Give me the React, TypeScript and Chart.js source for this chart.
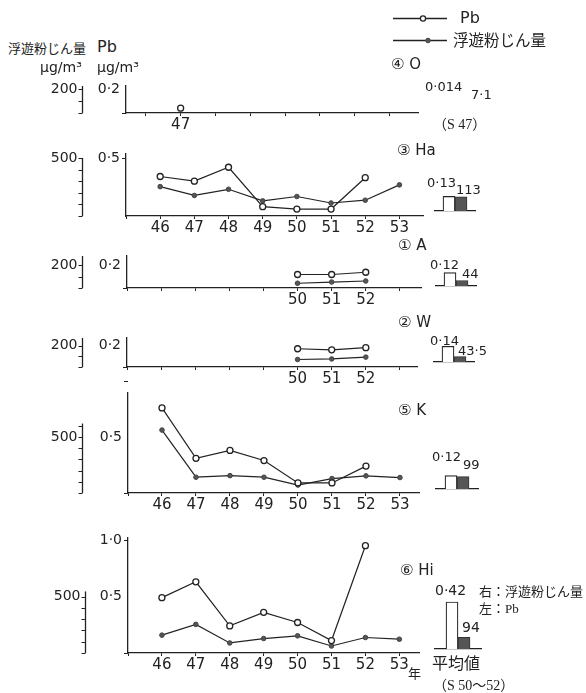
import React, { useEffect, useRef } from 'react';
import { Chart, registerables } from 'chart.js';
Chart.register(...registerables);

const FONT = '"DejaVu Sans", "Noto Sans CJK JP", sans-serif';
const JP = '"Noto Sans CJK JP", sans-serif';
const SERIF = '"Liberation Serif", "Noto Sans CJK JP", serif';
const INK = '#222';

// ---- data ----
const stations = ['O', 'Ha', 'A', 'W', 'K', 'Hi'];
const allYears = [46, 47, 48, 49, 50, 51, 52, 53];
const oYears = [47];
const oPb = [0.04];
const oDust = [40];
const haPb = [0.34, 0.3, 0.42, 0.08, 0.06, 0.06, 0.33, null];
const haDust = [253, 177, 230, 130, 168, 112, 136, 268];
const aYears = [50, 51, 52];
const aPb = [0.12, 0.12, 0.14];
const aDust = [42, 53, 62];
const wYears = [50, 51, 52];
const wPb = [0.17, 0.16, 0.18];
const wDust = [70, 75, 92];
const kPb = [0.76, 0.31, 0.38, 0.29, 0.09, 0.09, 0.24, null];
const kDust = [562, 141, 155, 141, 71, 129, 153, 138];
const hiPb = [0.49, 0.63, 0.24, 0.36, 0.27, 0.11, 0.95, null];
const hiDust = [158, 253, 89, 128, 152, 62, 137, 122];
// averages (S50-52)
const avgPb = [0.014, 0.13, 0.12, 0.14, 0.12, 0.42];
const avgDust = [7.1, 113, 44, 43.5, 99, 94];
const avgPbText = ['0·014', '0·13', '0·12', '0·14', '0·12', '0·42'];
const avgDustText = ['7·1', '113', '44', '43·5', '99', '94'];

const toPts = (ys: number[], vs: (number | null)[]) =>
  ys.map((y, i) => ({ x: y, y: vs[i] })).filter((p) => p.y !== null && p.y !== undefined);

const fmt = (v: number) => v.toFixed(1).replace('.', '·');

type Cfg = {
  years: number[]; pb: (number | null)[]; dust: (number | null)[]; shown: number[];
  top: number; bottom: number; left: number; right: number; dustX: number;
  xMin: number; xMax: number; pbMax: number; pbLabels: number[]; dustLabel: number;
  bracketTop: number; pbMinor: boolean;
};

const PANELS: Cfg[] = [
  { years: oYears, pb: oPb, dust: oDust, shown: [47], top: 86, bottom: 113, left: 126, right: 418, dustX: 83,
    xMin: 45.43, xMax: 53.82, pbMax: 0.225, pbLabels: [0.2], dustLabel: 200, bracketTop: 225, pbMinor: true },
  { years: allYears, pb: haPb, dust: haDust, shown: allYears, top: 154, bottom: 216, left: 126, right: 423, dustX: 83,
    xMin: 45, xMax: 53.69, pbMax: 0.534, pbLabels: [0.5], dustLabel: 500, bracketTop: 500, pbMinor: false },
  { years: aYears, pb: aPb, dust: aDust, shown: aYears, top: 256, bottom: 288, left: 127, right: 421, dustX: 83,
    xMin: 45, xMax: 53.62, pbMax: 0.284, pbLabels: [0.2], dustLabel: 200, bracketTop: 284, pbMinor: true },
  { years: wYears, pb: wPb, dust: wDust, shown: wYears, top: 338, bottom: 367, left: 127, right: 417, dustX: 83,
    xMin: 45, xMax: 53.5, pbMax: 0.27, pbLabels: [0.2], dustLabel: 200, bracketTop: 270, pbMinor: true },
  { years: allYears, pb: kPb, dust: kDust, shown: allYears, top: 393, bottom: 493, left: 128, right: 419, dustX: 83,
    xMin: 45, xMax: 53.56, pbMax: 0.893, pbLabels: [0.5], dustLabel: 500, bracketTop: 620, pbMinor: true },
  { years: allYears, pb: hiPb, dust: hiDust, shown: allYears, top: 538, bottom: 653, left: 128, right: 419, dustX: 86,
    xMin: 45, xMax: 53.58, pbMax: 1.018, pbLabels: [0.5, 1.0], dustLabel: 500, bracketTop: 545, pbMinor: true },
];

const BARS = [
  { i: 1, x0: 434, x1: 476, base: 211 },
  { i: 2, x0: 435, x1: 477, base: 286 },
  { i: 3, x0: 433, x1: 475, base: 362 },
  { i: 4, x0: 435, x1: 479, base: 489 },
  { i: 5, x0: 434, x1: 482, base: 649 },
];

// draws the left-hand tick marks / labels and the dust bracket, using the chart's own scales
const axisMarks = {
  id: 'axisMarks',
  afterDraw(chart: any, _args: any, o: any) {
    const y = chart.scales.y;
    const yd = chart.scales.yd;
    if (!y || !yd) return;
    const ctx = chart.ctx;
    const px = Math.round(chart.chartArea.left);
    const dx = Math.round(yd.right) - 0.5;
    ctx.save();
    ctx.strokeStyle = INK;
    ctx.fillStyle = INK;
    ctx.lineWidth = 1;
    ctx.font = `14px ${FONT}`;
    ctx.textAlign = 'right';
    ctx.textBaseline = 'middle';
    for (const v of o.pbTicks) {
      const py = Math.round(y.getPixelForValue(v)) + 0.5;
      ctx.beginPath();
      ctx.moveTo(px - 4, py);
      ctx.lineTo(px, py);
      ctx.stroke();
    }
    for (const v of o.pbLabels) ctx.fillText(fmt(v), px - 6, y.getPixelForValue(v));
    ctx.lineWidth = 1.3;
    ctx.beginPath();
    ctx.moveTo(dx, yd.getPixelForValue(0));
    ctx.lineTo(dx, yd.getPixelForValue(o.bracketTop));
    ctx.stroke();
    ctx.lineWidth = 1;
    for (const v of o.dustTicks) {
      const py = Math.round(yd.getPixelForValue(v)) + 0.5;
      ctx.beginPath();
      ctx.moveTo(dx - 4, py);
      ctx.lineTo(dx, py);
      ctx.stroke();
    }
    ctx.fillText(String(o.dustLabel), dx - 5, yd.getPixelForValue(o.dustLabel));
    ctx.restore();
  },
};

const PADT = 12;
const XH = 26;
const CW = 440;

function LinePanel({ cfg }: { cfg: Cfg }) {
  const ref = useRef<HTMLCanvasElement>(null);
  useEffect(() => {
    const pbTicks: number[] = [];
    if (cfg.pbMinor) {
      for (let k = 0; k * 0.1 <= cfg.pbMax + 1e-9; k++) pbTicks.push(Math.round(k * 10) / 10);
    } else {
      pbTicks.push(...cfg.pbLabels);
    }
    const dustTicks: number[] = [];
    for (let k = 0; k * 100 <= cfg.bracketTop + 1e-9; k++) dustTicks.push(k * 100);

    const chart = new Chart(ref.current!, {
      type: 'line',
      data: {
        datasets: [
          {
            label: 'Pb', data: toPts(cfg.years, cfg.pb) as any, yAxisID: 'y',
            borderColor: INK, borderWidth: 1.2, pointRadius: 3, pointBackgroundColor: '#fff',
            pointBorderColor: INK, pointBorderWidth: 1.3, tension: 0, clip: false as any,
          },
          {
            label: 'dust', data: toPts(cfg.years, cfg.dust) as any, yAxisID: 'yd',
            borderColor: INK, borderWidth: 1.2, pointRadius: 2.3, pointBackgroundColor: '#555',
            pointBorderColor: '#444', pointBorderWidth: 1, tension: 0, clip: false as any,
          },
        ],
      },
      options: {
        animation: false,
        responsive: false,
        maintainAspectRatio: false,
        events: [],
        layout: { padding: { top: PADT, left: 0, right: CW - cfg.right, bottom: 0 } },
        plugins: {
          legend: { display: false }, tooltip: { enabled: false },
          axisMarks: { pbTicks, pbLabels: cfg.pbLabels, dustTicks, dustLabel: cfg.dustLabel, bracketTop: cfg.bracketTop },
        } as any,
        scales: {
          x: {
            type: 'linear', position: 'bottom', min: cfg.xMin, max: cfg.xMax,
            afterFit: (s: any) => { s.height = XH; },
            border: { display: true, color: INK, width: 1.3 },
            grid: { drawOnChartArea: false, drawTicks: true, tickLength: 3, color: INK, lineWidth: 1 },
            ticks: {
              stepSize: 1, autoSkip: false, includeBounds: false, maxRotation: 0, padding: 0,
              font: { family: FONT, size: 15 }, color: INK,
              callback: (v: any) => (cfg.shown.includes(Number(v)) ? String(v) : ''),
            },
          },
          y: {
            type: 'linear', position: 'left', weight: 0, min: 0, max: cfg.pbMax,
            afterFit: (s: any) => { s.width = cfg.left - cfg.dustX; },
            border: { display: true, color: INK, width: 1.3 },
            grid: { display: false },
            ticks: { display: false },
          },
          yd: {
            type: 'linear', position: 'left', weight: 10, min: 0, max: cfg.pbMax * 1000,
            afterFit: (s: any) => { s.width = cfg.dustX; },
            border: { display: false },
            grid: { display: false },
            ticks: { display: false },
          },
        } as any,
      },
      plugins: [axisMarks],
    });
    return () => chart.destroy();
  }, []);
  const h = cfg.bottom - cfg.top + PADT + XH;
  return (
    <canvas ref={ref} width={CW} height={h}
      style={{ position: 'absolute', left: 0, top: cfg.top - PADT, width: CW, height: h }} />
  );
}

const BH = 60;
function BarPanel({ b }: { b: { i: number; x0: number; x1: number; base: number } }) {
  const ref = useRef<HTMLCanvasElement>(null);
  useEffect(() => {
    const chart = new Chart(ref.current!, {
      type: 'bar',
      data: {
        labels: [stations[b.i]],
        datasets: [
          { data: [avgPb[b.i]], yAxisID: 'y', backgroundColor: '#fff', borderColor: INK, borderWidth: 1.2, barThickness: 12 },
          { data: [avgDust[b.i]], yAxisID: 'yd', backgroundColor: '#555', borderColor: '#333', borderWidth: 1, barThickness: 12 },
        ],
      },
      options: {
        animation: false, responsive: false, maintainAspectRatio: false, events: [],
        layout: { padding: 0 },
        plugins: { legend: { display: false }, tooltip: { enabled: false } },
        scales: {
          x: {
            type: 'category', afterFit: (s: any) => { s.height = 2; },
            ticks: { display: false }, grid: { display: false },
            border: { display: true, color: INK, width: 1.3 },
          },
          y: { display: false, min: 0, max: 0.536 },
          yd: { display: false, min: 0, max: 480 },
        } as any,
      },
    });
    return () => chart.destroy();
  }, []);
  const w = b.x1 - b.x0;
  return (
    <canvas ref={ref} width={w} height={BH + 2}
      style={{ position: 'absolute', left: b.x0, top: b.base - BH, width: w, height: BH + 2 }} />
  );
}

function Txt({ x, y, size = 14, font = FONT, children }: any) {
  return (
    <div style={{
      position: 'absolute', left: x, top: y, transform: 'translateY(-50%)', fontSize: size,
      fontFamily: font, lineHeight: 1, whiteSpace: 'nowrap', color: INK,
    }}>{children}</div>
  );
}

export default function App() {
  return (
    <div style={{ position: 'absolute', left: 0, top: 0, width: 586, height: 693, background: '#fff', overflow: 'hidden' }}>
      <svg width={586} height={693} style={{ position: 'absolute', left: 0, top: 0 }}>
        <line x1={393} y1={18.5} x2={447} y2={18.5} stroke={INK} strokeWidth={1.3} />
        <circle cx={423} cy={18.5} r={2.6} fill="#fff" stroke={INK} strokeWidth={1.3} />
        <line x1={393} y1={40.5} x2={447} y2={40.5} stroke={INK} strokeWidth={1.3} />
        <circle cx={428} cy={40.5} r={2.3} fill="#555" stroke="#444" strokeWidth={1} />
      </svg>
      {PANELS.map((c, i) => <LinePanel key={i} cfg={c} />)}
      {BARS.map((b) => <BarPanel key={b.i} b={b} />)}

      <Txt x={8} y={47} size={13} font={JP}>浮遊粉じん量</Txt>
      <Txt x={97} y={47} size={16}>Pb</Txt>
      <Txt x={40} y={67} size={14}>μg/m³</Txt>
      <Txt x={97} y={67} size={14}>μg/m³</Txt>

      <Txt x={460} y={18} size={16}>Pb</Txt>
      <Txt x={453} y={40} size={15.5} font={JP}>浮遊粉じん量</Txt>

      <Txt x={391} y={64} size={15}>④ O</Txt>
      <Txt x={425} y={86} size={13}>{avgPbText[0]}</Txt>
      <Txt x={471} y={94} size={13}>{avgDustText[0]}</Txt>
      <Txt x={433} y={125} size={14} font={SERIF}>（S 47）</Txt>

      <Txt x={397} y={150} size={15}>③ Ha</Txt>
      <Txt x={427} y={182} size={13}>{avgPbText[1]}</Txt>
      <Txt x={456} y={189} size={13}>{avgDustText[1]}</Txt>

      <Txt x={398} y={245} size={15}>① A</Txt>
      <Txt x={430} y={264} size={13}>{avgPbText[2]}</Txt>
      <Txt x={462} y={273} size={13}>{avgDustText[2]}</Txt>

      <Txt x={398} y={322} size={15}>② W</Txt>
      <Txt x={430} y={340} size={13}>{avgPbText[3]}</Txt>
      <Txt x={458} y={350} size={13}>{avgDustText[3]}</Txt>

      <Txt x={398} y={410} size={15}>⑤ K</Txt>
      <Txt x={432} y={456} size={13}>{avgPbText[4]}</Txt>
      <Txt x={463} y={464} size={13}>{avgDustText[4]}</Txt>

      <Txt x={400} y={570} size={15}>⑥ Hi</Txt>
      <Txt x={435} y={590} size={14}>{avgPbText[5]}</Txt>
      <Txt x={462} y={627} size={14}>{avgDustText[5]}</Txt>
      <Txt x={479} y={591} size={13} font={SERIF}>右：浮遊粉じん量</Txt>
      <Txt x={479} y={608} size={13} font={SERIF}>左：Pb</Txt>
      <Txt x={408} y={672} size={13} font={JP}>年</Txt>
      <Txt x={432} y={662} size={16} font={JP}>平均値</Txt>
      <Txt x={433} y={686} size={14} font={SERIF}>（S 50〜52）</Txt>
    </div>
  );
}
